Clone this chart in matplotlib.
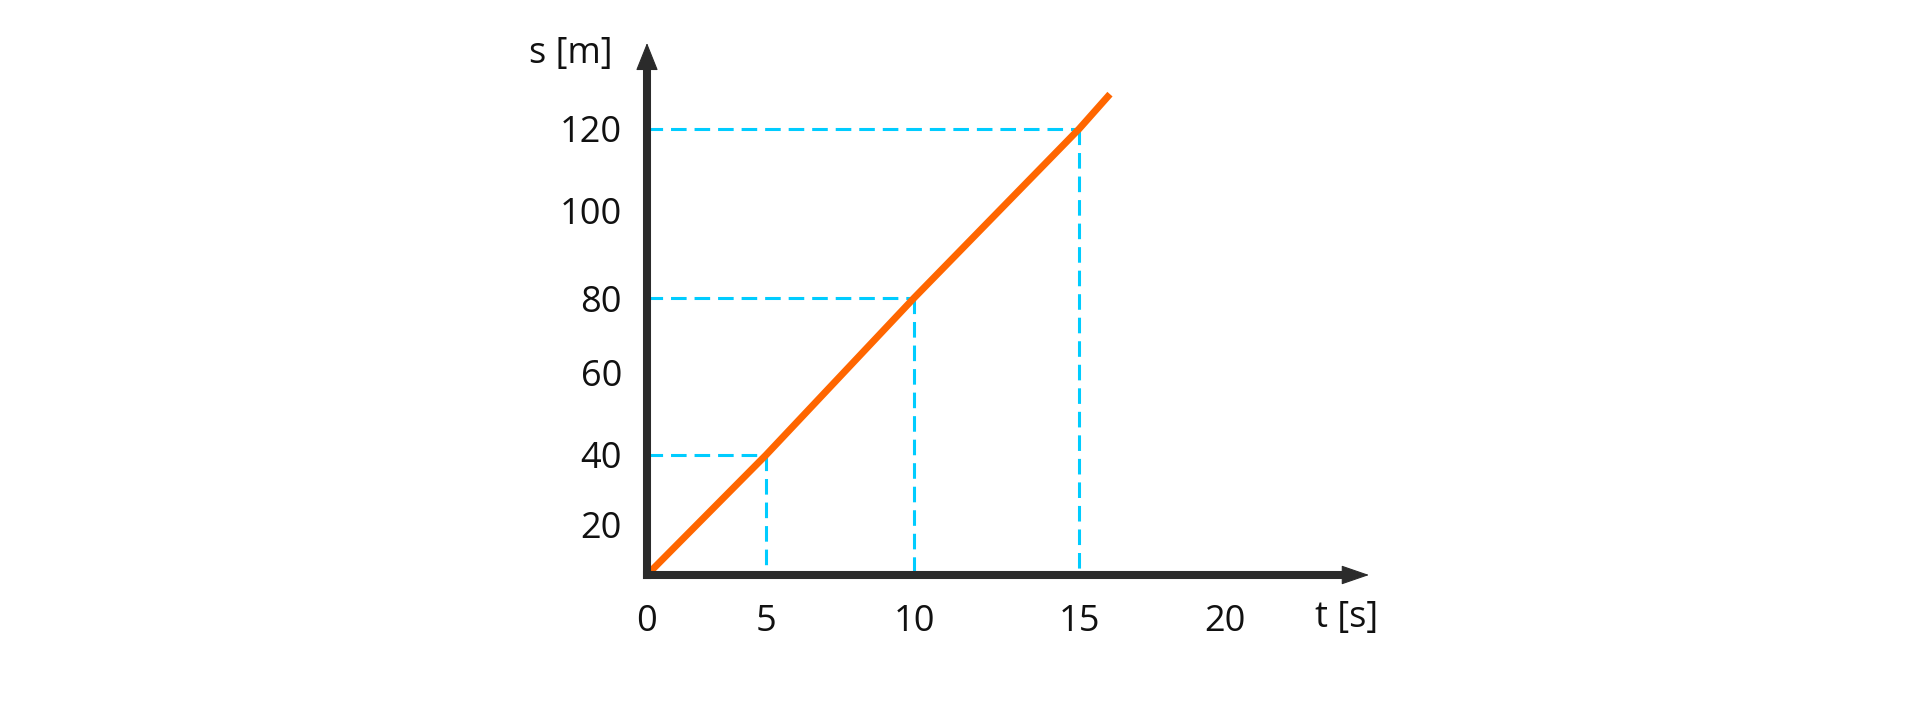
import numpy as np
import matplotlib
matplotlib.use("Agg")
import matplotlib.pyplot as plt

plt.rcParams['font.family'] = ['Open Sans', 'DejaVu Sans']

# data
t_line = [0, 5, 10, 15, 16.06]
s_line = [0, 40, 80, 120, 128.5]
t_mark = [5, 10, 15]
s_mark = [40, 80, 120]
x_ticks = [0, 5, 10, 15, 20]
y_ticks = [20, 40, 60, 80, 100, 120]

# the drawing is hand spaced, so the axes are piecewise linear (pixel offsets from origin)
x_anchor_val = [0, 5, 10, 15, 20]
x_anchor_px = [0, 119, 267, 432, 578]
y_anchor_val = [0, 20, 40, 60, 80, 100, 120]
y_anchor_px = [0, 51, 120, 202, 277, 364, 446]

AX_COL = '#2b2b2b'
ORANGE = '#ff6600'
CYAN = '#00ccff'


def interp_extrap(xp, fp):
    xp = np.asarray(xp, float)
    fp = np.asarray(fp, float)
    k0 = (fp[1] - fp[0]) / (xp[1] - xp[0])
    k1 = (fp[-1] - fp[-2]) / (xp[-1] - xp[-2])

    def f(v):
        v = np.asarray(v, float)
        out = np.interp(v, xp, fp)
        out = np.where(v < xp[0], fp[0] + (v - xp[0]) * k0, out)
        out = np.where(v > xp[-1], fp[-1] + (v - xp[-1]) * k1, out)
        return out
    return f


fx = interp_extrap(x_anchor_val, x_anchor_px)
ix = interp_extrap(x_anchor_px, x_anchor_val)
fy = interp_extrap(y_anchor_val, y_anchor_px)
iy = interp_extrap(y_anchor_px, y_anchor_val)

W, H = 1920, 711
ox, oy = 647, 575          # origin in pixels
ax_w, ax_h = 722, 532      # to arrow tips

fig = plt.figure(figsize=(W / 100, H / 100), dpi=100)
ax = fig.add_axes([ox / W, (H - oy) / H, ax_w / W, ax_h / H])
ax.set_xscale('function', functions=(fx, ix))
ax.set_yscale('function', functions=(fy, iy))
ax.set_xlim(0, float(ix(ax_w)))
ax.set_ylim(0, float(iy(ax_h)))

# guide lines
dash = (0, (5.1, 2.6))
for t, s in zip(t_mark, s_mark):
    ax.plot([0, t], [s, s], color=CYAN, lw=2.2, linestyle=dash, zorder=1)
    ax.plot([t, t], [s, 0], color=CYAN, lw=2.2, linestyle=dash, zorder=1)

ax.plot(t_line, s_line, color=ORANGE, lw=5, solid_capstyle='butt', zorder=2)

# axes with arrows
for s in ax.spines.values():
    s.set_visible(False)
head = 25
ax.plot([0, 1 - head / ax_w], [0, 0], transform=ax.transAxes, color=AX_COL,
        lw=5.8, solid_capstyle='projecting', clip_on=False, zorder=3)
ax.plot([0, 0], [0, 1 - head / ax_h], transform=ax.transAxes, color=AX_COL,
        lw=5.8, solid_capstyle='projecting', clip_on=False, zorder=3)
ax.annotate('', xy=(1, 0), xytext=(1 - head / ax_w, 0), xycoords='axes fraction',
            arrowprops=dict(arrowstyle='-|>,head_length=18,head_width=6.2', mutation_scale=1,
                            color=AX_COL, lw=0.8, shrinkA=0, shrinkB=0), zorder=4)
ax.annotate('', xy=(0, 1), xytext=(0, 1 - head / ax_h), xycoords='axes fraction',
            arrowprops=dict(arrowstyle='-|>,head_length=18,head_width=7.2', mutation_scale=1,
                            color=AX_COL, lw=0.8, shrinkA=0, shrinkB=0), zorder=4)

ax.set_xticks(x_ticks)
ax.set_yticks(y_ticks)
ax.set_xticklabels([str(v) for v in x_ticks])
ax.set_yticklabels([str(v) for v in y_ticks])
ax.tick_params(axis='both', length=0, labelsize=26, labelcolor='#111111')
ax.tick_params(axis='x', pad=21)
ax.tick_params(axis='y', pad=18)
ax.minorticks_off()

ax.set_xlabel('t [s]', fontsize=26, color='#111111', ha='center', va='center')
ax.xaxis.set_label_coords((1347 - ox) / ax_w, -(618 - oy) / ax_h)
ax.set_ylabel('s [m]', fontsize=26, color='#111111', rotation=0, ha='center', va='center')
ax.yaxis.set_label_coords((571 - ox) / ax_w, (oy - 54) / ax_h)

ax.patch.set_visible(False)
fig.savefig('out.png', dpi=100)
